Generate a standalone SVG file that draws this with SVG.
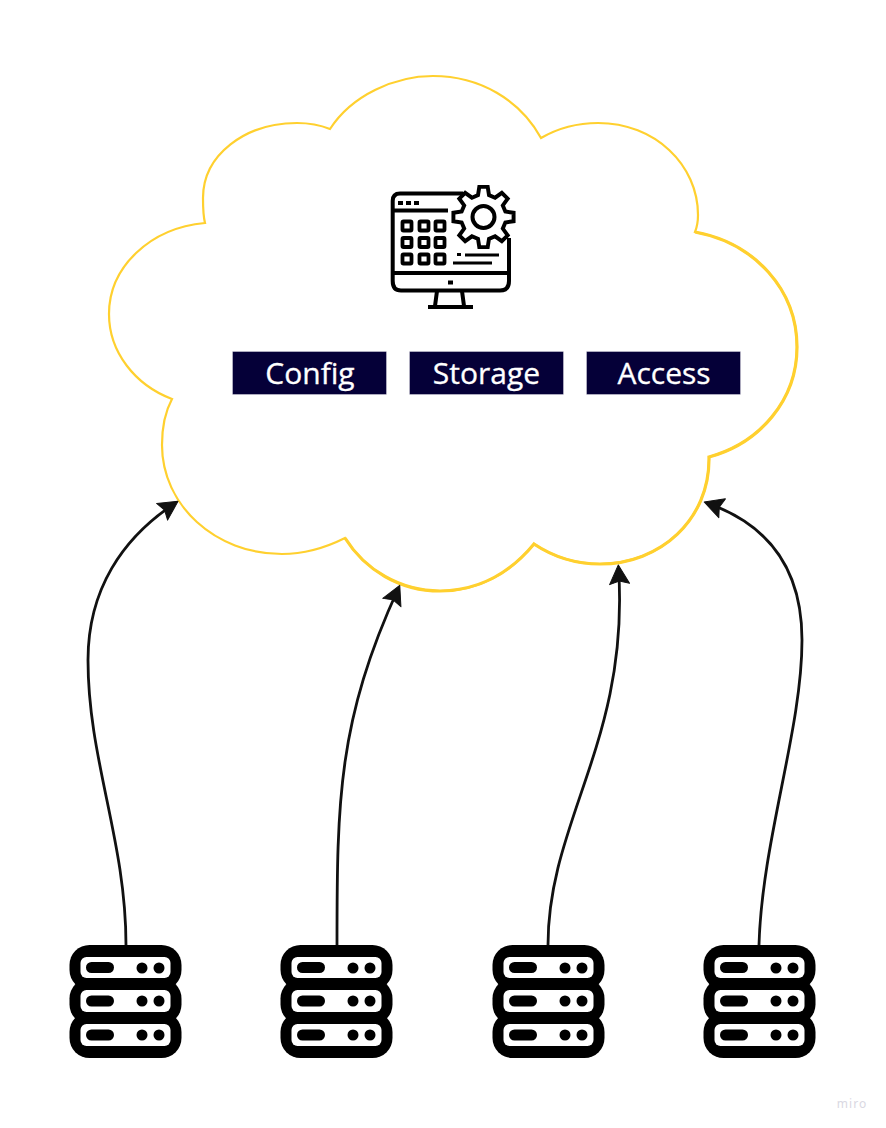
<svg xmlns="http://www.w3.org/2000/svg" width="886" height="1128" viewBox="0 0 886 1128">
<style>
.lbl{fill:#050038;stroke:#fff;stroke-width:1;stroke-opacity:.35}
.lt{font-family:"Open Sans","Noto Sans",sans-serif;font-size:30px;fill:#fff;stroke:#fff;stroke-width:.3;text-anchor:middle}
.wire{fill:none;stroke:#111;stroke-width:2.800}
.ic{fill:none;stroke:#000;stroke-width:4;stroke-linecap:butt}
.sq{fill:none;stroke:#000;stroke-width:3.800}
</style>
<defs>
<marker id="ah" markerUnits="userSpaceOnUse" markerWidth="28" markerHeight="28" viewBox="0 0 28 28" refX="17" refY="14" orient="auto">
<path d="M1 4 L20 14 L1 24 L4 14 Z" fill="#111" stroke="#111" stroke-width="1" stroke-linejoin="round"/>
</marker>
<g id="srv">
<rect x="0" y="0" width="112" height="45" rx="20" fill="#000"/>
<rect x="0" y="33.500" width="112" height="46" rx="20" fill="#000"/>
<rect x="0" y="67" width="112" height="46" rx="20" fill="#000"/>
<rect x="11" y="12" width="90" height="21" rx="6" fill="#fff"/>
<rect x="11" y="45" width="90" height="22" rx="6" fill="#fff"/>
<rect x="11" y="79" width="90" height="22" rx="6" fill="#fff"/>
<rect x="16.500" y="17" width="28" height="11" rx="5.500" fill="#000"/>
<rect x="16.500" y="50.500" width="28" height="11" rx="5.500" fill="#000"/>
<rect x="16.500" y="84.500" width="28" height="11" rx="5.500" fill="#000"/>
<circle cx="72.500" cy="23" r="5.500" fill="#000"/><circle cx="89.500" cy="23" r="5.500" fill="#000"/>
<circle cx="72.500" cy="56" r="5.500" fill="#000"/><circle cx="89.500" cy="56" r="5.500" fill="#000"/>
<circle cx="72.500" cy="90" r="5.500" fill="#000"/><circle cx="89.500" cy="90" r="5.500" fill="#000"/>
</g>
</defs>
<rect width="886" height="1128" fill="#fff"/>
<g id="cloud">
<path fill="#fff" stroke="#FFD02F" stroke-width="2.200" d="M330 129 C352 95 395 76 433 76 C480 76 520 100 541 138 C560 127 580 123 598 123 C655 123 698 165 698 215 C698 221 697 227 695 232 C755 243 797 290 797 347 C797 400 760 443 709 457 C710 520 660 564 600 564 C575 564 552 556 534 544 C510 573 478 591 440 591 C400 591 365 570 345 538 C325 548 305 554 282 554 C215 554 162 505 162 445 C162 427 165 412 172 399 C135 385 109 352 109 314 C109 267 150 228 205 223 C203 215 203 205 203 198 C203 155 245 123 297 123 C308 123 320 125 330 129 Z"/>
<path fill="none" stroke="#FFD02F" stroke-width="3.200" d="M695 232 C755 243 797 290 797 347 C797 400 760 443 709 457 C710 520 660 564 600 564 C575 564 552 556 534 544 C510 573 478 591 440 591 C400 591 365 570 345 538"/>
</g>
<g id="connectors">
<path class="wire" marker-end="url(#ah)" d="M126 945 C126 840 88 760 88 660 C88 590 122 538 175.500 503"/>
<path class="wire" marker-end="url(#ah)" d="M337 945 C337 800 338 720 398.500 588"/>
<path class="wire" marker-end="url(#ah)" d="M548 945 C548 820 630 740 618.500 568"/>
<path class="wire" marker-end="url(#ah)" d="M759 945 C762 840 802 730 802 640 C802 570 770 525 707 503"/>
</g>
<g id="app-icon">
<path class="ic" d="M463 193.500 H400 Q392.700 193.500 392.700 201 V281 Q392.700 290.500 401 290.500 H500 Q509 290.500 509 281 V238"/>
<path class="ic" d="M392.700 210.500 H448 M392.700 273 H509 M437 291 L435 306 M462 291 L464 306"/>
<path class="ic" d="M428 307 H473"/>
<path d="M398 201h5v4h-5z M406 201h5v4h-5z M414 201h5v4h-5z M448 280.500h5v4h-5z M457 253h4v3h-4z" fill="#000"/>
<path d="M465 255 H499 M453 263 H492" stroke="#000" stroke-width="3" fill="none"/>
<g class="sq">
<rect x="402.500" y="221.500" width="9" height="9" rx="1"/><rect x="419.500" y="221.500" width="9" height="9" rx="1"/><rect x="435.500" y="221.500" width="9" height="9" rx="1"/>
<rect x="402.500" y="238" width="9" height="9" rx="1"/><rect x="419.500" y="238" width="9" height="9" rx="1"/><rect x="435.500" y="238" width="9" height="9" rx="1"/>
<rect x="402.500" y="254.500" width="9" height="9" rx="1"/><rect x="419.500" y="254.500" width="9" height="9" rx="1"/><rect x="435.500" y="254.500" width="9" height="9" rx="1"/>
</g>
<g transform="translate(483.500 217)">
<path class="ic" fill="#fff" transform="scale(.98)" d="M-5.600 -22.300 L-4.300 -30.700 L4.300 -30.700 L5.600 -22.300 L11.800 -19.700 L18.700 -24.700 L24.700 -18.700 L19.700 -11.800 L22.300 -5.600 L30.700 -4.300 L30.700 4.300 L22.300 5.600 L19.700 11.800 L24.700 18.700 L18.700 24.700 L11.800 19.700 L5.600 22.300 L4.300 30.700 L-4.300 30.700 L-5.600 22.300 L-11.800 19.700 L-18.700 24.700 L-24.700 18.700 L-19.700 11.800 L-22.300 5.600 L-30.700 4.300 L-30.700 -4.300 L-22.300 -5.600 L-19.700 -11.800 L-24.700 -18.700 L-18.700 -24.700 L-11.800 -19.700 Z"/>
<circle class="ic" r="11"/>
</g>
</g>
<g id="config"><rect class="lbl" x="232.500" y="351.500" width="154" height="43"/><text class="lt" x="310" y="384">Config</text></g>
<g id="storage"><rect class="lbl" x="409.500" y="351.500" width="154" height="43"/><text class="lt" x="486.500" y="384">Storage</text></g>
<g id="access"><rect class="lbl" x="586.500" y="351.500" width="154" height="43"/><text class="lt" x="664" y="384">Access</text></g>
<g id="server-1"><use href="#srv" x="69.500" y="945"/></g>
<g id="server-2"><use href="#srv" x="280.500" y="945"/></g>
<g id="server-3"><use href="#srv" x="492.500" y="945"/></g>
<g id="server-4"><use href="#srv" x="703.500" y="945"/></g>
<text x="852" y="1108" font-family="'Noto Sans','Open Sans',sans-serif" font-size="12" letter-spacing="1" fill="#d9d8e2" text-anchor="middle">miro</text>
</svg>
